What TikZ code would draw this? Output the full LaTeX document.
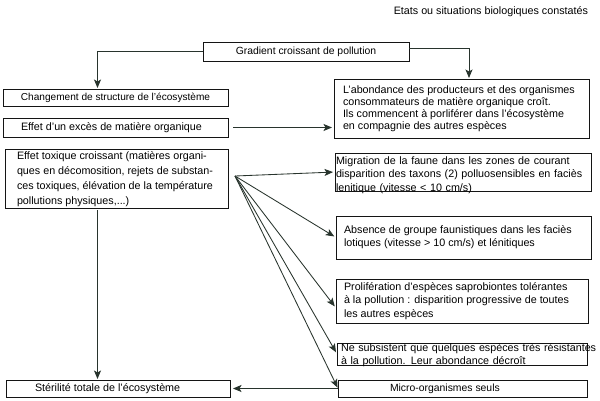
\documentclass[tikz,border=0pt]{standalone}
\usepackage{fontspec}
\setmainfont{Liberation Sans}
\usetikzlibrary{arrows.meta,calc}
\definecolor{lnc}{RGB}{40,52,45}
\definecolor{bxc}{RGB}{20,20,20}
\begin{document}
\begin{tikzpicture}[x=1pt,y=-1pt,
  font=\fontsize{10.75}{12}\selectfont,
  box/.style={draw=bxc,line width=0.9pt,inner sep=0pt,outer sep=0pt},
  txt/.style={inner sep=0pt,outer sep=0pt,align=left},
  conn/.style={draw=lnc,line width=0.85pt,-{Stealth[length=8.5pt,width=7pt,inset=2pt]}}]
\useasboundingbox[fill=white] (0,0) rectangle (600,400);

\node[txt,anchor=east] (title) at (588,12) {Etats ou situations biologiques constatés};

\node[box,minimum width=206pt,minimum height=19pt,align=center,font=\fontsize{10.4}{12}\selectfont] (grad) at (306,51.5) {Gradient croissant de pollution};

\node[box,minimum width=225pt,minimum height=17pt,align=center,font=\fontsize{10.1}{12}\selectfont] (chg) at (115.5,97.5) {Changement de structure de l'écosystème};

\node[box,minimum width=225pt,minimum height=19pt] (exc) at (115.5,127.5) {};
\node[txt,anchor=west] (exct) at ([xshift=18pt]exc.west) {Effet d'un excès de matière organique};

\node[box,minimum width=255pt,minimum height=59pt] (abond) at (461.5,108.5) {};
\node[txt,anchor=west,font=\fontsize{10.75}{12}\selectfont] (abondt) at ([xshift=9pt]abond.west) {L'abondance des producteurs et des organismes\\consommateurs de matière organique croît.\\Ils commencent à porliférer dans l'écosystème\\en compagnie des autres espèces};

\node[box,minimum width=223pt,minimum height=59pt] (tox) at (116.5,178.5) {};
\node[txt,anchor=west,font=\fontsize{10.75}{15}\selectfont] (toxt) at ([xshift=12pt,yshift=-1pt]tox.west) {Effet toxique croissant (matières organi-\\ques en décomosition, rejets de substan-\\ces toxiques, élévation de la température\\pollutions physiques,...)};

\node[box,minimum width=256pt,minimum height=38pt] (mig) at (463,172) {};
\node[txt,anchor=base west,text width=275pt,font=\fontsize{10.75}{13.5}\selectfont] (migt) at (336,164) {Migration de la faune dans les zones de courant\\disparition des taxons (2) polluosensibles en faciès\\lenitique (vitesse < 10 cm/s)};

\node[box,minimum width=255pt,minimum height=43pt] (abs) at (463.5,237.5) {};
\node[txt,anchor=west,font=\fontsize{10.75}{13}\selectfont] (abst) at ([xshift=8pt]abs.west) {Absence de groupe faunistiques dans les faciès\\lotiques (vitesse > 10 cm/s) et lénitiques};

\node[box,minimum width=252pt,minimum height=44pt] (prol) at (462,301) {};
\node[txt,anchor=west,font=\fontsize{10.75}{13.5}\selectfont] (prolt) at ([xshift=8pt]prol.west) {Prolifération d'espèces saprobiontes tolérantes\\à la pollution : disparition progressive de toutes\\les autres espèces};

\node[box,minimum width=250pt,minimum height=22pt] (nesub) at (462,354) {};
\node[txt,anchor=base west,text width=258pt,font=\fontsize{10.75}{13.5}\selectfont] (nesubt) at (341,351) {Ne subsistent que quelques espèces très résistantes\\à la pollution. Leur abondance décroît};

\node[box,minimum width=249pt,minimum height=17pt] (micro) at (462.5,388.5) {};
\node[txt,anchor=west,font=\fontsize{10.4}{12}\selectfont] (microt) at ([xshift=52pt]micro.west) {Micro-organismes seuls};

\node[box,minimum width=224pt,minimum height=17pt] (ster) at (118,388.5) {};
\node[txt,anchor=west] (stert) at ([xshift=29pt]ster.west) {Stérilité totale de l'écosystème};

\coordinate (vx) at (97.5,0);
\coordinate (fan) at (235,176);

\draw[conn,shorten >=1pt] (grad.west) -| (chg.north -| vx);
\draw[conn,shorten >=1pt] ([yshift=3pt]grad.east) -| ([xshift=7.5pt]abond.north);
\draw[conn,shorten <=5pt,shorten >=2pt] (exc.east) -- (exc.east -| abond.west);
\draw[conn,shorten <=2pt,shorten >=1pt] (tox.south -| vx) -- (ster.north -| vx);
\draw[conn,shorten >=2pt] (fan) -- (mig.west);
\draw[conn,shorten >=2pt] (fan) -- (abs.west);
\draw[conn,shorten >=2pt] (fan) -- ([yshift=-7pt]prol.west);
\draw[conn,shorten >=2pt] (fan) -- (nesub.west);
\draw[conn,shorten >=1pt] (fan) -- (micro.west);
\draw[conn,shorten >=3pt] (micro.west) -- (ster.east);
\end{tikzpicture}
\end{document}
